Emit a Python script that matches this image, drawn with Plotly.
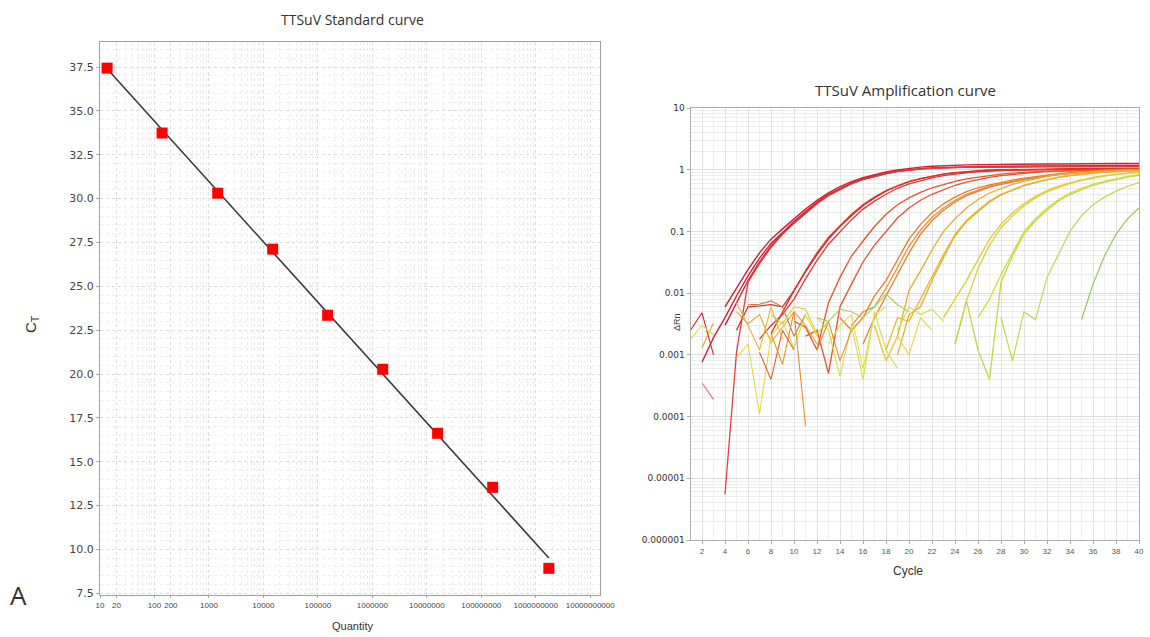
import numpy as np
import plotly.graph_objects as go

W, H = 1150, 637

# ---------------- Standard curve data ----------------
std_quantity = [13.5, 138, 1450, 14800, 151000, 1550000, 15800000, 162000000, 1740000000]
std_ct = [37.44, 33.74, 30.31, 27.12, 23.35, 20.27, 16.62, 13.54, 8.92]

std_xtick_vals = [10, 20, 100, 200, 1000, 10000, 100000, 1000000, 10000000,
                  100000000, 1000000000, 10000000000]
std_xtick_text = ["10", "20", "100", "200", "1000", "10000", "100000", "1000000",
                  "10000000", "100000000", "1000000000", "10000000000"]
std_ytick_vals = [7.5, 10.0, 12.5, 15.0, 17.5, 20.0, 22.5, 25.0, 27.5, 30.0, 32.5, 35.0, 37.5]

# ---------------- Amplification curve data (ΔRn per cycle) ----------------
amp_xtick_vals = list(range(2, 41, 2))
amp_ytick_vals = [0.000001, 0.00001, 0.0001, 0.001, 0.01, 0.1, 1, 10]
amp_ytick_text = ["0.000001", "0.00001", "0.0001", "0.001", "0.01", "0.1", "1", "10"]

g1a_start = 4
g1a = [0.006, 0.012, 0.024, 0.045, 0.075, 0.11, 0.16, 0.23, 0.32, 0.42, 0.53, 0.64, 0.74, 0.83, 0.92, 0.99,
       1.05, 1.1, 1.14, 1.17, 1.19, 1.2, 1.21, 1.22, 1.22, 1.23, 1.23, 1.24, 1.24, 1.24, 1.25, 1.25, 1.25,
       1.25, 1.26, 1.26, 1.26]
g1b_start = 2
g1b = [0.00076, 0.0019, 0.004, 0.009, 0.019, 0.037, 0.064, 0.098, 0.145, 0.21, 0.3, 0.4, 0.5, 0.61, 0.71,
       0.8, 0.88, 0.95, 1.0, 1.04, 1.07, 1.09, 1.1, 1.11, 1.12, 1.13, 1.13, 1.14, 1.14, 1.15, 1.15, 1.15,
       1.16, 1.16, 1.16, 1.16, 1.17, 1.17, 1.17]
g1c_start = 4
g1c = [0.003, 0.007, 0.016, 0.032, 0.058, 0.092, 0.14, 0.2, 0.29, 0.39, 0.49, 0.6, 0.7, 0.79, 0.87, 0.94,
       0.99, 1.03, 1.06, 1.08, 1.09, 1.1, 1.1, 1.11, 1.11, 1.12, 1.12, 1.12, 1.13, 1.13, 1.13, 1.13, 1.14,
       1.14, 1.14, 1.14, 1.14]
g1d_start = 4
g1d = [0.0000055, 0.0011, 0.015, 0.03, 0.055, 0.09, 0.135, 0.195, 0.28, 0.38, 0.48, 0.59, 0.69, 0.78, 0.86,
       0.93, 0.98, 1.02, 1.05, 1.07, 1.08, 1.09, 1.09, 1.1, 1.1, 1.11, 1.11, 1.11, 1.12, 1.12, 1.12, 1.12,
       1.13, 1.13, 1.13, 1.13, 1.13]

g2a_start = 5
g2a = [0.0025, 0.006, 0.0062, 0.0065, 0.006, 0.011, 0.022, 0.042, 0.075, 0.12, 0.18, 0.26, 0.35, 0.45, 0.55,
       0.64, 0.72, 0.79, 0.85, 0.9, 0.94, 0.97, 0.99, 1.0, 1.01, 1.02, 1.03, 1.04, 1.04, 1.05, 1.05, 1.05,
       1.06, 1.06, 1.06, 1.06]
g2b_start = 8
g2b = [0.0022, 0.005, 0.011, 0.023, 0.045, 0.08, 0.125, 0.19, 0.27, 0.36, 0.46, 0.55, 0.64, 0.72, 0.79,
       0.85, 0.89, 0.93, 0.95, 0.97, 0.98, 0.99, 1.0, 1.0, 1.01, 1.01, 1.01, 1.02, 1.02, 1.02, 1.02, 1.02, 1.02]
g2c_start = 7
g2c = [0.0018, 0.003, 0.0045, 0.008, 0.017, 0.034, 0.062, 0.1, 0.155, 0.23, 0.31, 0.4, 0.5, 0.59, 0.67,
       0.74, 0.8, 0.85, 0.89, 0.92, 0.95, 0.97, 0.98, 0.99, 1.0, 1.0, 1.0, 1.01, 1.01, 1.01, 1.01, 1.01, 1.01, 1.01]

g3a_start = 10
g3a = [0.0035, 0.0028, 0.0012, 0.007, 0.018, 0.04, 0.07, 0.12, 0.19, 0.27, 0.35, 0.43, 0.51, 0.58, 0.65,
       0.71, 0.76, 0.81, 0.85, 0.88, 0.91, 0.93, 0.95, 0.96, 0.97, 0.98, 0.99, 0.99, 1.0, 1.0, 1.0]
g3b_start = 11
g3b = [0.002, 0.0025, 0.0005, 0.006, 0.014, 0.032, 0.06, 0.1, 0.165, 0.24, 0.32, 0.4, 0.48, 0.56, 0.63,
       0.69, 0.75, 0.8, 0.84, 0.88, 0.91, 0.93, 0.95, 0.96, 0.97, 0.98, 0.98, 0.99, 0.99, 0.99]

g4a_start = 14
g4a = [0.004, 0.0025, 0.004, 0.009, 0.016, 0.035, 0.075, 0.13, 0.2, 0.28, 0.36, 0.44, 0.51, 0.57, 0.63,
       0.68, 0.73, 0.78, 0.82, 0.86, 0.9, 0.93, 0.96, 0.98, 0.99, 1.0, 1.0]
g4b_start = 15
g4b = [0.003, 0.005, 0.006, 0.012, 0.026, 0.058, 0.105, 0.17, 0.24, 0.32, 0.4, 0.47, 0.54, 0.6, 0.65,
       0.7, 0.75, 0.8, 0.84, 0.88, 0.91, 0.94, 0.96, 0.98, 0.99, 1.0]
g4c_start = 16
g4c = [0.0015, 0.004, 0.009, 0.02, 0.045, 0.09, 0.15, 0.22, 0.3, 0.38, 0.45, 0.52, 0.58, 0.64, 0.69,
       0.74, 0.79, 0.83, 0.87, 0.9, 0.93, 0.95, 0.97, 0.98, 0.99]

g5a_start = 17
g5a = [0.003, 0.0008, 0.002, 0.011, 0.023, 0.05, 0.1, 0.16, 0.24, 0.33, 0.42, 0.5, 0.58, 0.65, 0.72,
       0.78, 0.83, 0.87, 0.9, 0.93, 0.95, 0.97, 0.98, 0.99]
g5b_start = 18
g5b = [0.0012, 0.004, 0.0035, 0.008, 0.018, 0.042, 0.09, 0.15, 0.22, 0.31, 0.4, 0.48, 0.56, 0.63, 0.7,
       0.76, 0.81, 0.85, 0.89, 0.92, 0.94, 0.96, 0.97]
g5c_start = 19
g5c = [0.001, 0.0045, 0.006, 0.016, 0.038, 0.085, 0.145, 0.21, 0.3, 0.39, 0.47, 0.55, 0.62, 0.69, 0.75,
       0.8, 0.84, 0.88, 0.91, 0.93, 0.95, 0.96]

g6a_start = 23
g6a = [0.004, 0.008, 0.016, 0.035, 0.075, 0.13, 0.2, 0.28, 0.37, 0.46, 0.54, 0.61, 0.68, 0.75, 0.8,
       0.85, 0.88, 0.91]
g6b_start = 24
g6b = [0.0015, 0.0075, 0.025, 0.06, 0.115, 0.18, 0.26, 0.35, 0.44, 0.52, 0.6, 0.67, 0.73, 0.79, 0.84,
       0.87, 0.9]

g7a_start = 26
g7a = [0.004, 0.008, 0.02, 0.045, 0.1, 0.16, 0.24, 0.33, 0.42, 0.5, 0.58, 0.65, 0.72, 0.78, 0.83]
g7b_start = 24
g7b = [0.0015, 0.0075, 0.0012, 0.0004, 0.015, 0.04, 0.09, 0.15, 0.22, 0.31, 0.4, 0.48, 0.56, 0.63, 0.7,
       0.76, 0.81]

g8a_start = 28
g8a = [0.004, 0.0008, 0.005, 0.0037, 0.018, 0.042, 0.1, 0.18, 0.27, 0.36, 0.45, 0.54, 0.62]

g9a_start = 35
g9a = [0.0037, 0.014, 0.04, 0.09, 0.16, 0.24]

# baseline noise fragments
n01_start, n01 = 1, [0.0025, 0.0048, 0.001]
n02_start, n02 = 2, [0.0013, 0.0033]
n03_start, n03 = 1, [0.0018, 0.003, 0.0021]
n04_start, n04 = 2, [0.00035, 0.00019]
n05_start, n05 = 5, [0.005, 0.0032, 0.0045, 0.0016, 0.0028, 0.005, 0.003, 0.0015]
n06_start, n06 = 6, [0.0065, 0.0066, 0.0075, 0.006, 0.002, 0.0045]
n07_start, n07 = 5, [0.0009, 0.0015, 0.00011, 0.002, 0.0035, 0.0013, 0.0045, 0.002]
n08_start, n08 = 8, [0.0022, 0.0007, 0.005, 0.00007]
n09_start, n09 = 7, [0.0011, 0.0004, 0.0025, 0.0012]
n10_start, n10 = 12, [0.004, 0.0025, 0.00045, 0.003, 0.0004, 0.005, 0.0012, 0.0006]
n11_start, n11 = 12, [0.004, 0.0035, 0.0055, 0.005, 0.004, 0.006, 0.0097, 0.0065, 0.005]
n12_start, n12 = 19, [0.0025, 0.006, 0.0045, 0.0055, 0.0035]
n13_start, n13 = 17, [0.003, 0.0008, 0.002, 0.001, 0.004, 0.0025]
n14_start, n14 = 5, [0.007, 0.003, 0.0012, 0.006, 0.0018]
n15_start, n15 = 13, [0.0015, 0.003, 0.0045, 0.0006, 0.0045, 0.006]
n16_start, n16 = 12, [0.0012, 0.0035, 0.0008, 0.0025]
n17_start, n17 = 8, [0.0045, 0.0032, 0.006, 0.0055, 0.0022, 0.0035]

# ---------------- styling ----------------
C1, C2, C3, C4 = "#d21f33", "#e02c28", "#e6522a", "#ee7b2c"
C5, C6, C7, C8, C9 = "#e9ac2e", "#e2cc30", "#d3da3c", "#bdd84c", "#8fc85c"

amp_traces = [
    (g1a_start, g1a, C1, 1.4), (g1b_start, g1b, C1, 1.4), (g1c_start, g1c, C1, 1.4), (g1d_start, g1d, "#e0403a", 1.3),
    (g2a_start, g2a, C2, 1.3), (g2b_start, g2b, C2, 1.3), (g2c_start, g2c, "#dc3a30", 1.3),
    (g3a_start, g3a, C3, 1.3), (g3b_start, g3b, C3, 1.3),
    (g4a_start, g4a, C4, 1.3), (g4b_start, g4b, "#f08c30", 1.3), (g4c_start, g4c, C4, 1.3),
    (g5a_start, g5a, C5, 1.3), (g5b_start, g5b, "#eab832", 1.3), (g5c_start, g5c, C5, 1.3),
    (g6a_start, g6a, C6, 1.3), (g6b_start, g6b, "#dcd034", 1.3),
    (g7a_start, g7a, C7, 1.3), (g7b_start, g7b, "#c4d646", 1.3),
    (g8a_start, g8a, C8, 1.2),
    (g9a_start, g9a, C9, 1.2),
    (n01_start, n01, C1, 1.1), (n02_start, n02, "#f09a30", 1.1), (n03_start, n03, "#d6e040", 1.1),
    (n04_start, n04, "#e07080", 1.1), (n05_start, n05, "#f0a032", 1.1), (n06_start, n06, "#c8783e", 1.1),
    (n07_start, n07, "#e0dc3a", 1.1), (n08_start, n08, "#e8902a", 1.1), (n09_start, n09, "#e06030", 1.1),
    (n10_start, n10, "#d0e044", 1.1), (n11_start, n11, "#a8d054", 1.1), (n12_start, n12, "#cce04a", 1.1),
    (n13_start, n13, "#e8d442", 1.1), (n14_start, n14, "#f0b432", 1.1), (n15_start, n15, "#e4e040", 1.1),
    (n16_start, n16, "#ec8a2e", 1.1), (n17_start, n17, "#dccc3c", 1.1),
]

fig = go.Figure()

# ---------------- left: standard curve ----------------
slope, intercept = np.polyfit(np.log10(std_quantity), std_ct, 1)
fit_x = [std_quantity[0], std_quantity[-1]]
fit_y = [intercept + slope * np.log10(v) for v in fit_x]
fig.add_trace(go.Scatter(x=fit_x, y=fit_y, mode="lines", line=dict(color="#3a3a3a", width=1.6),
                         xaxis="x", yaxis="y", showlegend=False, hoverinfo="skip"))
fig.add_trace(go.Scatter(x=std_quantity, y=std_ct, mode="markers",
                         marker=dict(symbol="square", size=11, color="#ff0000", line=dict(width=0)),
                         xaxis="x", yaxis="y", showlegend=False))

# ---------------- right: amplification curves ----------------
for start, vals, col, lw in amp_traces:
    cyc = list(range(start, start + len(vals)))
    fig.add_trace(go.Scatter(x=cyc, y=vals, mode="lines", line=dict(color=col, width=lw),
                             xaxis="x2", yaxis="y2", showlegend=False, connectgaps=False))


def px(x):
    return x / W


def py(y):
    return 1 - y / H


axis_font = dict(family="Liberation Sans, Arial", size=8, color="#444")

fig.update_layout(
    width=W, height=H, margin=dict(l=0, r=0, t=0, b=0, autoexpand=False),
    paper_bgcolor="white", plot_bgcolor="white", showlegend=False,
    xaxis=dict(domain=[px(100), px(600)], type="log", range=[1.0, 10.18], anchor="y", automargin=False,
               tickvals=std_xtick_vals, ticktext=std_xtick_text, tickfont=axis_font,
               showline=True, linecolor="#a0a0a0", linewidth=1, mirror=True,
               showgrid=True, gridcolor="#dcdcdc", griddash="dot", gridwidth=1,
               ticks="outside", ticklen=2, tickcolor="#aaa",
               minor=dict(showgrid=True, gridcolor="#ececec", griddash="dot", dtick="D1"),
               zeroline=False),
    yaxis=dict(domain=[py(595), py(42)], range=[7.4, 38.93], anchor="x", automargin=False,
               tickvals=std_ytick_vals, ticktext=[f"{v:.1f}" for v in std_ytick_vals],
               tickfont=dict(family="DejaVu Sans, Verdana", size=11, color="#444"),
               showline=True, linecolor="#a0a0a0", linewidth=1, mirror=True,
               showgrid=True, gridcolor="#dcdcdc", griddash="dot", gridwidth=1,
               ticks="outside", ticklen=3, tickcolor="#aaa",
               minor=dict(showgrid=True, gridcolor="#eeeeee", griddash="dot", dtick=0.5),
               zeroline=False),
    xaxis2=dict(domain=[px(690.5), px(1139)], range=[1, 40], anchor="y2", automargin=False,
                tickvals=amp_xtick_vals, tickfont=dict(family="Liberation Sans, Arial", size=8, color="#555"),
                showline=True, linecolor="#b0b0b0", linewidth=1, mirror=True,
                showgrid=True, gridcolor="#e2e2e2", gridwidth=1,
                ticks="outside", ticklen=3, tickcolor="#aaa",
                minor=dict(showgrid=True, gridcolor="#efefef", dtick=1),
                zeroline=False),
    yaxis2=dict(domain=[py(540), py(108)], type="log", range=[-6, 1], anchor="x2", automargin=False,
                tickvals=amp_ytick_vals, ticktext=amp_ytick_text,
                tickfont=dict(family="DejaVu Sans, Verdana", size=9, color="#333"),
                showline=True, linecolor="#b0b0b0", linewidth=1, mirror=True,
                showgrid=True, gridcolor="#dcdcdc", gridwidth=1,
                ticks="outside", ticklen=3, tickcolor="#aaa",
                minor=dict(showgrid=True, gridcolor="#ececec", dtick="D1"),
                zeroline=False),
)

title_font = dict(family="Open Sans, Lato, sans-serif", size=14, color="#333")
ann = [
    dict(x=px(352), y=py(20), text="TTSuV Standard curve", font=title_font),
    dict(x=px(905), y=py(90), text="TTSuV Amplification curve", font=dict(family="Open Sans, Lato, sans-serif", size=15, color="#333")),
    dict(x=px(352), y=py(626), text="Quantity", font=dict(family="Liberation Sans, Arial", size=11, color="#333")),
    dict(x=px(908), y=py(571), text="Cycle", font=dict(family="Liberation Sans, Arial", size=12, color="#333")),
    dict(x=px(31), y=py(324), text="C<sub>T</sub>", textangle=-90, font=dict(family="Liberation Sans, Arial", size=15, color="#333")),
    dict(x=px(677), y=py(322), text="ΔRn", textangle=-90, font=dict(family="Liberation Sans, Arial", size=9, color="#444")),
    dict(x=px(18), y=py(595), text="A", font=dict(family="Open Sans, Lato, sans-serif", size=26, color="#333")),
]
for a in ann:
    a.update(xref="paper", yref="paper", showarrow=False, xanchor="center", yanchor="middle")
fig.update_layout(annotations=ann)

fig.write_html("out.html", config={"displayModeBar": False},
               post_script="document.body.style.margin='0';document.body.style.overflow='hidden';")
